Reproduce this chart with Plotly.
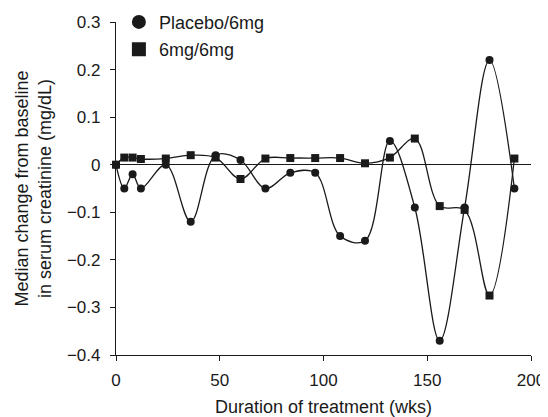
import plotly.graph_objects as go

weeks = [0, 4, 8, 12, 24, 36, 48, 60, 72, 84, 96, 108, 120, 132, 144, 156, 168, 180, 192]
placebo_6mg = [0, -0.05, -0.02, -0.05, 0, -0.12, 0.02, 0.01, -0.05, -0.017, -0.017,
               -0.15, -0.16, 0.05, -0.09, -0.37, -0.09, 0.22, -0.05]
mg6_6mg = [0, 0.015, 0.015, 0.012, 0.013, 0.02, 0.015, -0.03, 0.013, 0.014, 0.014,
           0.014, 0.003, 0.015, 0.055, -0.087, -0.095, -0.275, 0.013]

x_ticks = [0, 50, 100, 150, 200]
y_ticks = [0.3, 0.2, 0.1, 0, -0.1, -0.2, -0.3, -0.4]
y_tick_text = ["0.3", "0.2", "0.1", "0", "\u22120.1", "\u22120.2", "\u22120.3", "\u22120.4"]

names = ["Placebo/6mg", "6mg/6mg"]
symbols = ["circle", "square"]
series = [placebo_6mg, mg6_6mg]

ink = "#1a1a1a"
fig = go.Figure()
for name, sym, vals in zip(names, symbols, series):
    fig.add_trace(go.Scatter(
        x=weeks, y=vals, mode="lines+markers", showlegend=False,
        line=dict(color=ink, width=1.3, shape="spline", smoothing=1),
        marker=dict(symbol=sym, size=8, color=ink),
        cliponaxis=False,
    ))
for i, (name, sym) in enumerate(zip(names, symbols)):
    fig.add_trace(go.Scatter(
        x=[None], y=[None], mode="markers", name=name, legendgroup=name,
        marker=dict(symbol=sym, size=14, color=ink),
    ))

fig.update_layout(
    width=540, height=409,
    margin=dict(l=108, r=17, t=14, b=62, autoexpand=False),
    paper_bgcolor="white", plot_bgcolor="white",
    font=dict(family="Liberation Sans, Arial, sans-serif", size=17, color=ink),
    legend=dict(x=0.007, y=1.055, xanchor="left", yanchor="top",
                bgcolor="rgba(0,0,0,0)", tracegroupgap=1,
                font=dict(size=18)),
)
fig.update_xaxes(
    range=[0, 200], tickvals=x_ticks, ticks="outside", ticklen=5, tickwidth=1.3,
    tickcolor=ink, showline=True, linecolor=ink, linewidth=1.3, showgrid=False,
    zeroline=False, ticklabelstandoff=4,
    title=dict(text="Duration of treatment (wks)", font=dict(size=18), standoff=13),
)
fig.update_yaxes(
    range=[-0.4, 0.3], tickvals=y_ticks, ticktext=y_tick_text, ticks="outside",
    ticklen=5, tickwidth=1.3, tickcolor=ink, showline=True, linecolor=ink,
    linewidth=1.3, showgrid=False, zeroline=True, zerolinecolor=ink, zerolinewidth=1.2,
    ticklabelstandoff=6,
    title=dict(text="Median change from baseline<br>in serum creatinine (mg/dL)",
               font=dict(size=18), standoff=10),
)

fig.write_html("out.html")
